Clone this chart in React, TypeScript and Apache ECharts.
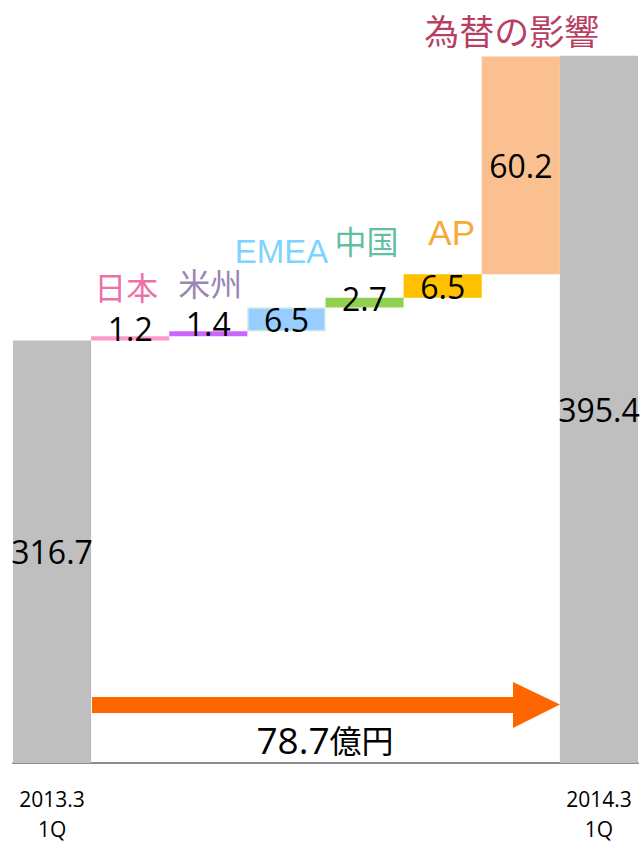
import React, { useEffect, useRef } from "react";
import * as echarts from "echarts";

const categories = ["2013.3\n1Q", "日本", "米州", "EMEA", "中国", "AP", "為替の影響", "2014.3\n1Q"];
const values = [316.7, 1.2, 1.4, 6.5, 2.7, 6.5, 60.2, 395.4];
const isTotal = [true, false, false, false, false, false, false, true];
const totalNoteNumber = "78.7";
const totalNoteUnit = "億円";

const barColors = ["#BFBFBF", "#FF99CC", "#CC66FF", "#99CCFF", "#92D050", "#FFC000", "#FAC090", "#BFBFBF"];
const nameColors = ["", "#E64B8C", "#8064A2", "#5BC8FF", "#35AE88", "#F39400", "#A50A38", ""];
const nameOffsets: [number, number][] = [[0, 0], [-4, -50], [2, -49], [-5, -56], [2, -58], [9, -42], [-9, -27], [0, 0]];
const valueShift = [0, -10, -10, 0, -4, 0, 0, 0];

const NUM_FONT = "'Open Sans', 'Noto Sans', sans-serif";
const CJK_FONT = "'Noto Sans CJK JP', sans-serif";
const LATIN_FONT = "'Liberation Sans', Arial, sans-serif";

export default function App() {
  const ref = useRef<HTMLDivElement>(null);
  useEffect(() => {
    if (!ref.current) return;
    const chart = echarts.init(ref.current, null, { renderer: "svg" });

    const bases: number[] = [];
    let running = 0;
    values.forEach((v, i) => {
      if (isTotal[i]) {
        bases.push(0);
        running = v;
      } else {
        bases.push(+running.toFixed(2));
        running += v;
      }
    });
    const tops = values.map((v, i) => bases[i] + v);

    const visibleData = values.map((v, i) => ({
      value: v,
      itemStyle: {
        color: barColors[i],
        borderColor: i === 3 ? "#C5E4E4" : undefined,
        borderWidth: i === 3 ? 1.5 : 0,
      },
      label: {
        show: true,
        position: "inside",
        offset: [0, valueShift[i]],
        formatter: String(v.toFixed(1)),
        fontFamily: NUM_FONT,
        fontSize: 32,
        lineHeight: 30,
        color: "#000",
      },
    }));

    const nameData = categories.map((c, i) => {
      const latin = /^[A-Z]+$/.test(c);
      const fs = latin ? (c === "AP" ? 35 : 33) : i === 6 ? 35 : 32;
      return {
        value: [i, tops[i]],
        label: {
          show: !isTotal[i],
          position: "inside",
          offset: nameOffsets[i],
          formatter: c,
          color: nameColors[i] || "#000",
          fontFamily: latin ? LATIN_FONT : CJK_FONT,
          fontSize: fs,
          lineHeight: fs - 2,
        },
      };
    });

    chart.setOption({
      animation: false,
      grid: { left: 13, right: 4, top: 39, height: 724, containLabel: false, outerBoundsMode: "none" },
      xAxis: {
        type: "category",
        data: categories,
        axisTick: { show: false },
        axisLine: { show: true, lineStyle: { color: "#8C8C8C", width: 2 } },
        axisLabel: {
          interval: 0,
          margin: 21,
          fontSize: 21,
          lineHeight: 30,
          fontFamily: NUM_FONT,
          color: "#000",
          formatter: (val: string, idx: number) => (isTotal[idx] ? val : ""),
        },
      },
      yAxis: {
        type: "value",
        min: 200,
        max: 400,
        show: false,
        splitLine: { show: false },
      },
      series: [
        {
          type: "bar",
          stack: "wf",
          data: bases,
          itemStyle: { color: "transparent" },
          barCategoryGap: "0%",
          silent: true,
        },
        {
          type: "bar",
          stack: "wf",
          data: visibleData,
          barCategoryGap: "0%",
        },
        {
          type: "scatter",
          data: nameData,
          symbolSize: 0,
          z: 5,
        },
      ],
      graphic: [
        {
          type: "polygon",
          shape: {
            points: [
              [92, 697],
              [513, 697],
              [513, 682],
              [560, 704.5],
              [513, 728],
              [513, 713],
              [92, 713],
            ],
          },
          style: { fill: "#FF6600" },
          z: 10,
        },
        {
          type: "text",
          x: 325,
          y: 739,
          style: {
            text: "{n|" + totalNoteNumber + "}{u|" + totalNoteUnit + "}",
            rich: {
              n: { fontSize: 37, fontFamily: NUM_FONT, fill: "#000", lineHeight: 36, verticalAlign: "middle" },
              u: { fontSize: 32, fontFamily: CJK_FONT, fill: "#000", lineHeight: 36, verticalAlign: "middle" },
            },
            align: "center",
            verticalAlign: "middle",
          },
          z: 10,
        },
      ],
    });
    return () => chart.dispose();
  }, []);
  return (
    <div
      ref={ref}
      style={{ position: "fixed", left: 0, top: 0, width: 642, height: 845, background: "#fff" }}
    />
  );
}
